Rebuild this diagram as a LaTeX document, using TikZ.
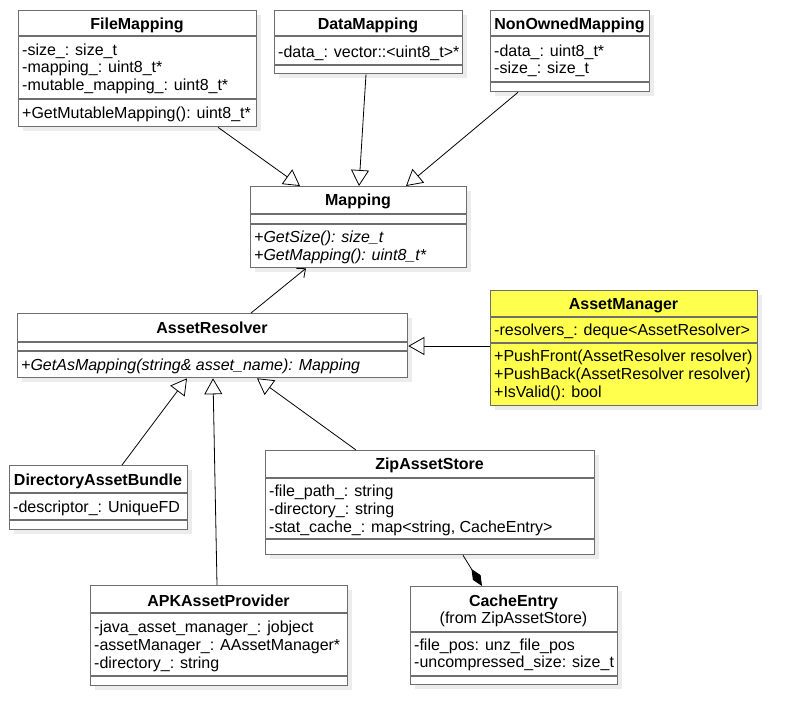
\documentclass[tikz,border=0pt]{standalone}
\usepackage{fontspec}
\setmainfont{Liberation Sans}
\usetikzlibrary{arrows.meta,shadows}
\definecolor{boxgray}{RGB}{110,110,110}
\definecolor{shadowgray}{RGB}{236,236,236}
\definecolor{amyellow}{RGB}{255,255,77}
\tikzset{
 classbox/.style={draw=boxgray, line width=1.3pt, fill=white, anchor=north west, inner sep=0pt,
   drop shadow={shadow xshift=4pt, shadow yshift=-4pt, fill=shadowgray, opacity=1}},
 sepline/.style={draw=boxgray, line width=1.3pt},
 txt/.style={anchor=west, inner sep=0pt, yshift=-1.5pt, font=\fontsize{16}{18}\selectfont, text height=11pt, text depth=3pt},
 ttl/.style={anchor=center, inner sep=0pt, yshift=-1.5pt, font=\fontsize{16}{18}\selectfont\bfseries, text height=11pt, text depth=3pt},
 ttlsub/.style={anchor=center, inner sep=0pt, yshift=-1.5pt, font=\fontsize{16}{18}\selectfont, text height=11pt, text depth=3pt},
 itx/.style={txt, font=\fontsize{16}{18}\selectfont\itshape},
 conn/.style={draw=black, line width=0.8pt},
 gen/.style={conn, -{Triangle[open, length=16pt, width=18pt, fill=white]}},
 assoc/.style={conn, -{Straight Barb[length=7pt, width=12pt]}},
 comp/.style={conn, -{Diamond[length=20pt, width=9pt, fill=black]}},
}
\begin{document}
\begin{tikzpicture}[x=1pt,y=-1pt]
\useasboundingbox (0,0) rectangle (797,725);
\fill[white] (0,0) rectangle (797,725);

% FileMapping
\node[classbox, minimum width=238pt, minimum height=116pt] (fm) at (18,10) {};
\draw[sepline] (18,36) -- (256,36) (18,99) -- (256,99);
\node[ttl] (fmT) at (137,24) {FileMapping};
\node[txt] (fmA1) at (22,50) {-size\_: size\_t};
\node[txt] (fmA2) at (22,67) {-mapping\_: uint8\_t*};
\node[txt] (fmA3) at (22,85) {-mutable\_mapping\_: uint8\_t*};
\node[txt] (fmM1) at (22,113) {+GetMutableMapping(): uint8\_t*};

% DataMapping
\node[classbox, minimum width=188pt, minimum height=63pt] (dm) at (274,10) {};
\draw[sepline] (274,36) -- (462,36) (274,65) -- (462,65);
\node[ttl] (dmT) at (368,24) {DataMapping};
\node[txt] (dmA1) at (278,52) {-data\_: vector::<uint8\_t>*};

% NonOwnedMapping
\node[classbox, minimum width=159pt, minimum height=81pt] (nom) at (490,10) {};
\draw[sepline] (490,36) -- (649,36) (490,82) -- (649,82);
\node[ttl] (nomT) at (569.5,24) {NonOwnedMapping};
\node[txt] (nomA1) at (494,51) {-data\_: uint8\_t*};
\node[txt] (nomA2) at (494,68) {-size\_: size\_t};

% Mapping
\node[classbox, minimum width=216pt, minimum height=81pt] (map) at (250,186) {};
\draw[sepline] (250,214) -- (466,214) (250,224) -- (466,224);
\node[ttl] (mapT) at (358,200) {Mapping};
\node[itx] (mapM1) at (254,237) {+GetSize(): size\_t};
\node[itx] (mapM2) at (254,255) {+GetMapping(): uint8\_t*};

% AssetResolver
\node[classbox, minimum width=390pt, minimum height=64pt] (ar) at (17,313) {};
\draw[sepline] (17,342) -- (407,342) (17,351) -- (407,351);
\node[ttl] (arT) at (212,328) {AssetResolver};
\node[itx] (arM1) at (21,365) {+GetAsMapping(string\& asset\_name): Mapping};

% AssetManager
\node[classbox, fill=amyellow, minimum width=267pt, minimum height=115pt] (am) at (490,290) {};
\draw[sepline] (490,317) -- (757,317) (490,343) -- (757,343);
\node[ttl] (amT) at (623.5,304) {AssetManager};
\node[txt] (amA1) at (494,330) {-resolvers\_: deque<AssetResolver>};
\node[txt] (amM1) at (494,356) {+PushFront(AssetResolver resolver)};
\node[txt] (amM2) at (494,374) {+PushBack(AssetResolver resolver)};
\node[txt] (amM3) at (494,392) {+IsValid(): bool};

% DirectoryAssetBundle
\node[classbox, minimum width=178pt, minimum height=64pt] (dab) at (9,465) {};
\draw[sepline] (9,493) -- (187,493) (9,520) -- (187,520);
\node[ttl] (dabT) at (98,480) {DirectoryAssetBundle};
\node[txt] (dabA1) at (13,507) {-descriptor\_: UniqueFD};

% ZipAssetStore
\node[classbox, minimum width=329pt, minimum height=104pt] (zas) at (265,450) {};
\draw[sepline] (265,478) -- (594,478) (265,539) -- (594,539);
\node[ttl] (zasT) at (429.5,464) {ZipAssetStore};
\node[txt] (zasA1) at (269,491) {-file\_path\_: string};
\node[txt] (zasA2) at (269,509) {-directory\_: string};
\node[txt] (zasA3) at (269,527) {-stat\_cache\_: map<string, CacheEntry>};

% APKAssetProvider
\node[classbox, minimum width=257pt, minimum height=100pt] (apk) at (90,585) {};
\draw[sepline] (90,613) -- (347,613) (90,676) -- (347,676);
\node[ttl] (apkT) at (218.5,601) {APKAssetProvider};
\node[txt] (apkA1) at (94,627) {-java\_asset\_manager\_: jobject};
\node[txt] (apkA2) at (94,645) {-assetManager\_: AAssetManager*};
\node[txt] (apkA3) at (94,663) {-directory\_: string};

% CacheEntry
\node[classbox, minimum width=207pt, minimum height=98pt] (ce) at (410,586) {};
\draw[sepline] (410,632) -- (617,632) (410,676) -- (617,676);
\node[ttl] (ceT) at (513.5,601) {CacheEntry};
\node[ttlsub] (ceS) at (513.5,618) {(from ZipAssetStore)};
\node[txt] (ceA1) at (414,645) {-file\_pos: unz\_file\_pos};
\node[txt] (ceA2) at (414,662) {-uncompressed\_size: size\_t};

% connectors
\draw[gen] ([xshift=200pt]fm.south west) -- ([xshift=50pt]map.north west);
\draw[gen] ([xshift=92pt]dm.south west) -- ([xshift=109pt]map.north west);
\draw[gen] ([xshift=28pt]nom.south west) -- ([xshift=156pt]map.north west);
\draw[assoc] ([xshift=234pt]ar.north west) -- ([xshift=56pt]map.south west);
\draw[gen] ([yshift=-56pt]am.north west) -- ([yshift=-33pt]ar.north east);
\draw[gen] ([xshift=113pt]dab.north west) -- ([xshift=170pt]ar.south west);
\draw[gen] ([xshift=127pt]apk.north west) -- ([xshift=196pt]ar.south west);
\draw[gen] ([xshift=91pt]zas.north west) -- ([xshift=240pt]ar.south west);
\draw[comp] ([xshift=198pt]zas.south west) -- ([xshift=72pt]ce.north west);
\end{tikzpicture}
\end{document}
